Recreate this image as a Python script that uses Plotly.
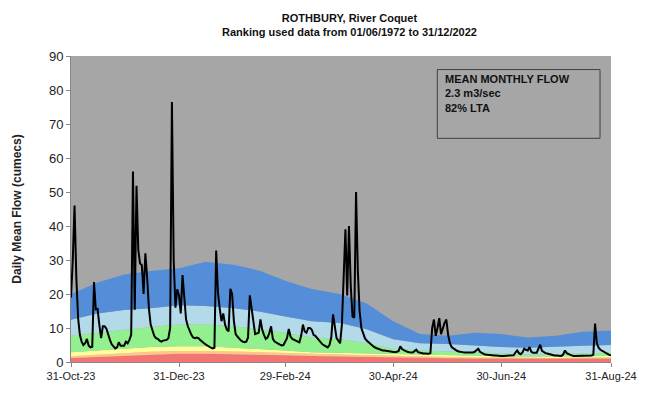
import pandas as pd
import plotly.graph_objects as go

# Daily mean flow (m3/s), 31-Oct-2023 to 31-Aug-2024
flow_oct = [19]
flow_nov = [30, 46, 25, 13, 8, 6, 5, 5.5, 6.8, 4.8, 4.3, 4.5, 23.5, 15.5, 15.6,
            11, 7, 10.5, 10.5, 9.8, 8, 6.5, 5.2, 4.6, 4, 4.3, 5.8, 4.8, 4.7, 4.8]
flow_dec = [6, 5.5, 6.5, 8, 56, 15.4, 51.8, 33, 29, 28.5, 20, 32, 25, 15.7, 11,
            9, 7.7, 7, 6.8, 6.3, 6, 6.3, 6.5, 6.5, 7, 10, 76.5, 30, 16, 21.4, 19.6]
flow_jan = [14.3, 25.6, 18.5, 12.5, 10.5, 9, 8, 7.2, 7, 7.2, 7, 6.5, 5.9, 5.6, 5.2,
            4.8, 4.5, 4.2, 4, 4.2, 32.8, 20.5, 15.7, 12, 14.3, 11, 9.5, 9, 21.5, 20, 12]
flow_feb = [8.2, 7.5, 6.8, 6.3, 6, 5.8, 6, 7.2, 19.6, 15, 12, 8.2, 8.4, 8.6, 12.5,
            9.5, 8, 6.8, 7.2, 8.5, 10.5, 6.8, 6, 5.6, 5.4, 5.1, 4.9, 5, 5.8]
flow_mar = [7, 9.7, 7.5, 6.8, 6.5, 6.3, 6, 5.8, 7.7, 11, 9, 8.6, 10, 10, 9.5,
            8, 7.7, 7, 6.5, 5.8, 5.2, 4.9, 4.6, 4.3, 5, 7.2, 14, 11, 7, 6.3, 5.5]
flow_apr = [11, 25, 39, 19.6, 40, 22.4, 13.4, 13, 50, 27, 15, 10, 8.3, 7, 6.3,
            5.8, 5.2, 4.8, 4.5, 4.2, 4, 3.8, 3.5, 3.4, 3.4, 3.3, 3.2, 3.1, 3, 2.9]
flow_may = [2.9, 3, 3.2, 4.6, 3.8, 3.5, 3.2, 3, 2.9, 2.8, 2.8, 3.2, 3.6, 2.9, 2.7,
            2.6, 2.5, 2.5, 2.4, 2.4, 2.6, 10, 12.5, 7.7, 10, 12.9, 8.2, 10, 11.5, 12.5, 8]
flow_jun = [5.5, 4.4, 4, 3.6, 3.3, 3.1, 2.9, 2.9, 2.8, 2.8, 2.7, 2.7, 2.7, 2.8, 3,
            3.6, 3.9, 3, 2.6, 2.4, 2.2, 2.1, 2, 2, 1.9, 1.9, 1.9, 1.8, 1.8, 1.8]
flow_jul = [1.8, 1.8, 1.8, 1.8, 1.8, 1.8, 2, 2.8, 3.4, 2.6, 2.3, 2.8, 3.9, 3.6, 3.4,
            4.4, 3, 2.7, 2.6, 2.7, 3.9, 5.1, 3.3, 2.8, 2.6, 2.5, 2.3, 2.1, 2, 1.9, 1.9]
flow_aug = [1.8, 1.8, 1.8, 2.2, 3.4, 2.6, 2.3, 2.1, 1.9, 1.8, 1.8, 1.7, 1.7, 1.7, 1.7,
            1.7, 1.7, 1.8, 1.8, 1.9, 2.1, 11.3, 5.5, 4.2, 3.6, 3.3, 2.9, 2.6, 2.3, 2.1, 2.0]

flow = (flow_oct + flow_nov + flow_dec + flow_jan + flow_feb + flow_mar
        + flow_apr + flow_may + flow_jun + flow_jul + flow_aug)
flow_dates = pd.date_range("2023-10-31", periods=len(flow), freq="D")

# Historical ranking bands (upper bound of each class, m3/s)
band_dates = ["2023-10-31", "2023-11-15", "2023-11-30", "2023-12-15", "2023-12-31",
              "2024-01-15", "2024-01-31", "2024-02-15", "2024-02-29", "2024-03-15",
              "2024-03-31", "2024-04-15", "2024-04-30", "2024-05-15", "2024-05-31",
              "2024-06-15", "2024-06-30", "2024-07-15", "2024-07-31", "2024-08-15",
              "2024-08-31"]
exc_low_top = [1.2, 1.5, 1.9, 2.2, 2.4, 2.4, 2.3, 2.2, 2.0, 1.8, 1.7, 1.5, 1.3, 1.2,
               1.1, 1.0, 1.0, 0.9, 0.9, 1.0, 1.0]
not_low_top = [1.7, 2.1, 2.6, 3.0, 3.2, 3.2, 3.1, 2.9, 2.6, 2.4, 2.2, 2.0, 1.7, 1.5,
               1.4, 1.3, 1.3, 1.2, 1.2, 1.3, 1.3]
below_top = [2.9, 3.4, 3.9, 4.4, 4.6, 4.6, 4.2, 3.9, 3.4, 2.9, 2.7, 2.6, 2.3, 2.1,
             1.9, 1.8, 1.7, 1.6, 1.6, 1.7, 1.8]
normal_top = [7.7, 8.6, 9.6, 10.3, 11, 11, 10.5, 9.6, 8.6, 7.2, 6.7, 5.5, 3.9, 3.4,
              3.2, 2.9, 2.5, 2.2, 2.3, 2.5, 2.7]
above_top = [12.4, 14.3, 15.3, 15.8, 16.7, 16.5, 15.8, 14.8, 13.4, 12, 11.5, 9.6, 6.7,
             5.5, 5.3, 4.8, 4.4, 4.2, 4.6, 4.8, 5.0]
not_high_top = [20, 23.4, 25.7, 26.8, 27.6, 29.5, 28.6, 26.8, 23.9, 21.5, 20, 17.2, 12,
                8.2, 7.7, 8.6, 8.2, 7.2, 7.7, 8.9, 9.3]

bands = [
    ("Exceptionally low", exc_low_top, "#F27573"),
    ("Notably low", not_low_top, "#FFC58A"),
    ("Below normal", below_top, "#FFFF99"),
    ("Normal", normal_top, "#92F08E"),
    ("Above normal", above_top, "#B3DAE8"),
    ("Notably high", not_high_top, "#558ED8"),
]

tick_dates = ["2023-10-31", "2023-12-31", "2024-02-29", "2024-04-30",
              "2024-06-30", "2024-08-31"]
tick_text = ["31-Oct-23", "31-Dec-23", "29-Feb-24", "30-Apr-24", "30-Jun-24", "31-Aug-24"]

fig = go.Figure()
for i, (name, tops, colour) in enumerate(bands):
    fig.add_trace(go.Scatter(
        x=band_dates, y=tops, name=name, mode="lines",
        line=dict(width=0, color=colour),
        fill="tozeroy" if i == 0 else "tonexty",
        fillcolor=colour, hoverinfo="skip",
    ))

fig.add_trace(go.Scatter(
    x=flow_dates, y=flow, name="Daily mean flow", mode="lines",
    line=dict(color="black", width=2),
))

W, H = 649, 394
L, R, T, B = 71, 37, 56, 22
pw, ph = W - L - R, H - T - B


def px_x(p):
    return (p - L) / pw


def px_y(p):
    return (H - B - p) / ph


fig.update_layout(
    width=W, height=H,
    margin=dict(l=L, r=R, t=T, b=B),
    paper_bgcolor="white",
    plot_bgcolor="#A6A6A6",
    showlegend=False,
    font=dict(family="Arial, Liberation Sans, sans-serif", color="#222"),
    xaxis=dict(
        range=["2023-10-31", "2024-08-31"],
        tickvals=tick_dates, ticktext=tick_text,
        showgrid=False, zeroline=False,
        showline=True, linecolor="#888", linewidth=1,
        ticks="outside", ticklen=4, tickcolor="#888",
        tickfont=dict(size=11, color="#222"),
    ),
    yaxis=dict(
        range=[0, 90], dtick=10,
        showgrid=False, zeroline=False,
        showline=True, linecolor="#888", linewidth=1,
        ticks="outside", ticklen=4, tickcolor="#888",
        tickfont=dict(size=13, color="#222"),
        title=dict(text="<b>Daily Mean Flow (cumecs)</b>",
                   font=dict(size=12, color="#222"), standoff=24),
    ),
)

# Title
fig.add_annotation(
    xref="paper", yref="paper", x=px_x(350), y=px_y(8),
    xanchor="center", yanchor="top", showarrow=False, align="center",
    text="<b>ROTHBURY, River Coquet</b><br><b>Ranking used data from 01/06/1972 to 31/12/2022</b>",
    font=dict(size=11, color="#111"),
)

# Monthly summary box
fig.add_shape(
    type="rect", xref="paper", yref="paper",
    x0=px_x(438), x1=px_x(601), y0=px_y(141), y1=px_y(70),
    line=dict(color="#404040", width=1), fillcolor="rgba(0,0,0,0)",
)
fig.add_annotation(
    xref="paper", yref="paper", x=px_x(444), y=px_y(71),
    xanchor="left", yanchor="top", showarrow=False, align="left",
    text="<b>MEAN MONTHLY FLOW</b><br><b>2.3 m3/sec</b><br><b>82% LTA</b>",
    font=dict(size=11, color="#111"),
)

fig.write_html("out.html")
